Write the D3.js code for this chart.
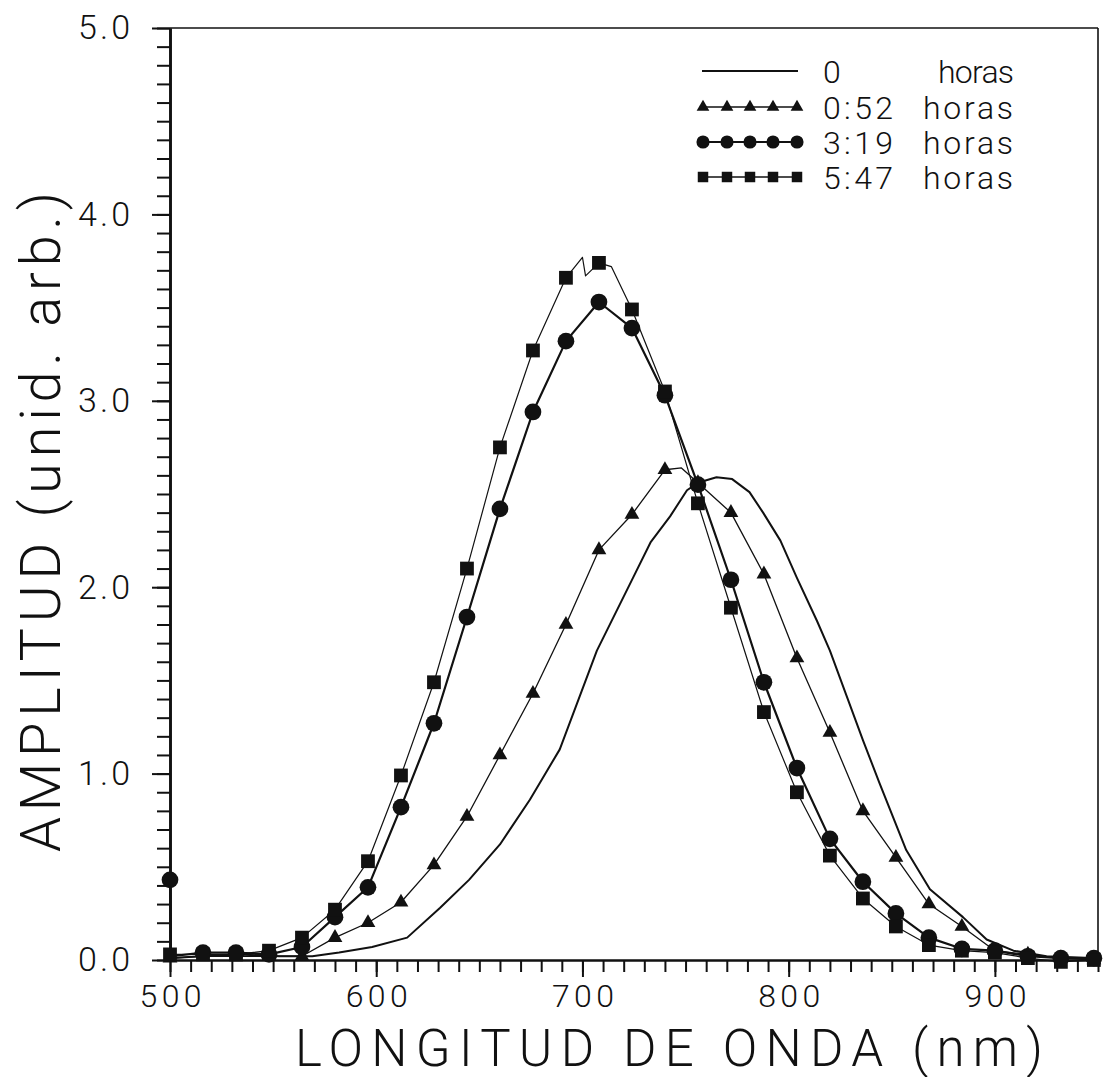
<!DOCTYPE html>
<html><head><meta charset="utf-8">
<script src="https://cdn.jsdelivr.net/npm/d3@7"></script>
<style>body{margin:0;background:#fff}</style>
</head><body>
<svg id="chart" width="1103" height="1077"></svg>
<script>
// ---------- data (wavelength nm, amplitude) ----------
const xMajorTicks = [500, 600, 700, 800, 900];
const yMajorTicks = [0, 1, 2, 3, 4, 5];
const legendTimes = ["0", "0:52", "3:19", "5:47"];
const legendUnit = "horas";
const xTitle = "LONGITUD DE ONDA (nm)";
const yTitle = "AMPLITUD (unid. arb.)";

const series0h = [[500,0.01],[514.5,0.02],[534,0.03],[553,0.02],[569,0.02],[582,0.04],[598,0.07],[615,0.12],[631,0.28],[645,0.43],[660,0.62],[674.5,0.86],[689,1.13],[707,1.66],[724.5,2.05],[733,2.24],[742.5,2.38],[750.7,2.52],[756,2.56],[765,2.59],[772.6,2.58],[781,2.51],[787.6,2.40],[796,2.25],[804,2.05],[813.7,1.82],[820,1.66],[828,1.42],[836,1.18],[844,0.95],[857,0.59],[868.5,0.38],[884.5,0.23],[896,0.11],[909,0.05],[925,0.02],[950,0.01]];

const series052 = [[500,0.01],[516,0.02],[532,0.02],[548,0.02],[564,0.02],[580,0.12],[596,0.20],[612,0.31],[628,0.51],[644,0.77],[660,1.10],[676,1.43],[692,1.80],[708,2.20],[724,2.39],[740,2.63],[748,2.64],[756,2.56],[772,2.40],[788,2.07],[804,1.62],[820,1.22],[836,0.80],[852,0.55],[868,0.30],[884,0.18],[900,0.05],[916,0.03],[932,0.01],[948,0.00]];

const series319 = [[500,0.43],[500.5,0.02],[516,0.04],[532,0.04],[548,0.03],[564,0.07],[580,0.23],[596,0.39],[612,0.82],[628,1.27],[644,1.84],[660,2.42],[676,2.94],[692,3.32],[708,3.53],[724,3.39],[740,3.03],[756,2.55],[772,2.04],[788,1.49],[804,1.03],[820,0.65],[836,0.42],[852,0.25],[868,0.12],[884,0.06],[900,0.05],[916,0.02],[932,0.01],[948,0.01]];

const series547 = [[500,0.03],[516,0.03],[532,0.03],[548,0.05],[564,0.12],[580,0.27],[596,0.53],[612,0.99],[628,1.49],[644,2.10],[660,2.75],[676,3.27],[692,3.66],[700,3.77],[701.5,3.67],[708,3.74],[714,3.72],[724,3.49],[740,3.05],[756,2.45],[772,1.89],[788,1.33],[804,0.90],[820,0.56],[836,0.33],[852,0.18],[868,0.08],[884,0.05],[900,0.04],[916,0.01],[932,-0.01],[948,0.00]];

// ---------- layout ----------
const svg = d3.select("#chart");
svg.append("rect").attr("width",1103).attr("height",1077).attr("fill","#fff");
const FONT = "Roboto, 'DejaVu Sans', sans-serif";
const x = d3.scaleLinear().domain([500, 950]).range([170, 1098]);
const y = d3.scaleLinear().domain([0, 5]).range([960, 28]);

// frame (top & right)
svg.append("line").attr("x1", x(500)).attr("x2", x(950)).attr("y1", y(5)).attr("y2", y(5))
  .attr("stroke","#111").attr("stroke-width",1.6);
svg.append("line").attr("x1", x(950)).attr("x2", x(950)).attr("y1", y(5)).attr("y2", y(0))
  .attr("stroke","#111").attr("stroke-width",1.6);

// x axis: minor and major
const gxMinor = svg.append("g").attr("transform",`translate(0,${y(0)})`)
  .call(d3.axisBottom(x).tickValues(d3.range(500, 951, 10)).tickSize(12).tickSizeOuter(0).tickFormat(""));
const gx = svg.append("g").attr("transform",`translate(0,${y(0)})`)
  .call(d3.axisBottom(x).tickValues(xMajorTicks).tickSize(17).tickSizeOuter(0).tickPadding(7).tickFormat(d3.format("d")));
// y axis
const gyMinor = svg.append("g").attr("transform",`translate(${x(500)},0)`)
  .call(d3.axisLeft(y).tickValues(d3.range(0, 51, 1).map(d => d/10)).tickSize(13).tickSizeOuter(0).tickFormat(""));
const gy = svg.append("g").attr("transform",`translate(${x(500)},0)`)
  .call(d3.axisLeft(y).tickValues(yMajorTicks).tickSize(18).tickSizeOuter(0).tickPadding(22).tickFormat(d3.format(".1f")));

[gxMinor, gx, gyMinor, gy].forEach(g => {
  g.selectAll("line").attr("stroke","#111").attr("stroke-width",2);
  g.select(".domain").attr("stroke","#111");
});
gxMinor.select(".domain").attr("stroke-width",2);
gx.select(".domain").attr("stroke-width",2);
gyMinor.select(".domain").attr("stroke-width",2.6);
gy.select(".domain").attr("stroke-width",2.6);

gx.selectAll("text").attr("font-family",FONT).attr("font-weight",300).attr("font-size",32)
  .attr("fill","#111").attr("textLength",62).attr("lengthAdjust","spacing");
gy.selectAll("text").attr("font-family",FONT).attr("font-weight",300).attr("font-size",34)
  .attr("fill","#111").attr("textLength",52).attr("lengthAdjust","spacing");

// axis titles
svg.append("text").attr("x", 295).attr("y", 1066).attr("font-family",FONT).attr("font-weight",300)
  .attr("font-size",51).attr("fill","#111").attr("textLength",748).attr("lengthAdjust","spacing").text(xTitle);
svg.append("text").attr("transform","translate(60,522) rotate(-90)").attr("text-anchor","middle")
  .attr("font-family",FONT).attr("font-weight",300).attr("font-size",56).attr("fill","#111")
  .attr("textLength",660).attr("lengthAdjust","spacing").text(yTitle);

// ---------- series ----------
const line = d3.line().x(d => x(d[0])).y(d => y(d[1]));
const seriesDefs = [
  {data: series0h,  width: 2.0, symbol: null},
  {data: series052, width: 1.3, symbol: d3.symbolTriangle, size: 95},
  {data: series319, width: 2.2, symbol: d3.symbolCircle, size: 220},
  {data: series547, width: 1.2, symbol: d3.symbolSquare, size: 190}
];
const plot = svg.append("g");
seriesDefs.forEach(s => {
  plot.append("path").datum(s.data).attr("d", line).attr("fill","none")
    .attr("stroke","#111").attr("stroke-width", s.width).attr("stroke-linejoin","round");
});
seriesDefs.forEach(s => {
  if (!s.symbol) return;
  const pts = s.data.filter(d => (d[0] - 500) % 16 === 0);
  plot.selectAll(null).data(pts).enter().append("path")
    .attr("d", d3.symbol().type(s.symbol).size(s.size))
    .attr("transform", d => `translate(${x(d[0])},${y(d[1])})`)
    .attr("fill","#111");
});

// ---------- legend ----------
const legRowsY = [71, 107, 142, 177];
const legendSym = [null, {t: d3.symbolTriangle, s: 70}, {t: d3.symbolCircle, s: 135}, {t: d3.symbolSquare, s: 110}];
const legendLineW = [2, 1.3, 2, 1.3];
const sampleXs = [703, 727, 750, 773, 797];
legRowsY.forEach((ry, i) => {
  svg.append("line").attr("x1", 702).attr("x2", 798).attr("y1", ry).attr("y2", ry)
    .attr("stroke","#111").attr("stroke-width", legendLineW[i]);
  if (legendSym[i]) {
    svg.selectAll(null).data(sampleXs).enter().append("path")
      .attr("d", d3.symbol().type(legendSym[i].t).size(legendSym[i].s))
      .attr("transform", d => `translate(${d},${ry})`).attr("fill","#111");
  }
  const t = svg.append("text").attr("x", 823).attr("y", ry + 12).attr("font-family",FONT)
    .attr("font-weight",300).attr("font-size",32).attr("fill","#111").text(legendTimes[i]);
  if (i > 0) t.attr("textLength", 70).attr("lengthAdjust","spacing");
  svg.append("text").attr("x", i === 0 ? 938 : 923).attr("y", ry + 12).attr("font-family",FONT)
    .attr("font-weight",300).attr("font-size",32).attr("fill","#111")
    .attr("textLength", i === 0 ? 76 : 90).attr("lengthAdjust","spacing").text(legendUnit);
});
</script>
</body></html>
